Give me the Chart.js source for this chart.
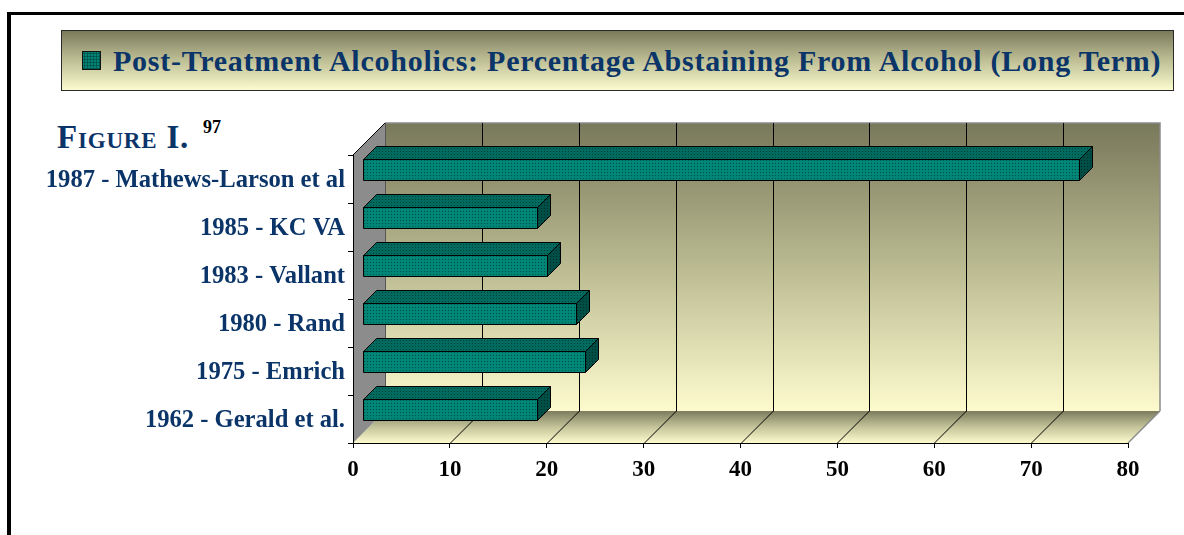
<!DOCTYPE html>
<html><head><meta charset="utf-8">
<script src="https://cdn.jsdelivr.net/npm/chart.js@4.4.1/dist/chart.umd.min.js"></script>
<style>
html,body{margin:0;padding:0;width:1184px;height:535px;overflow:hidden;background:#fff;}
#frame{position:absolute;left:7px;top:12px;width:1200px;height:600px;border-left:4px solid #000;border-top:3px solid #000;box-sizing:border-box;}
#legend{position:absolute;left:61px;top:30px;width:1113px;height:61px;border:1.5px solid #2a2a2a;box-sizing:border-box;background:linear-gradient(#7a7a5c,#b9b990 45%,#fbfbcf);}
#lgbox{position:absolute;left:20px;top:20px;width:19px;height:19px;border:1px solid #111;box-sizing:border-box;background-color:#008577;background-image:radial-gradient(circle,#00524a 45%,transparent 55%);background-size:3px 3px;}
#lgtext{position:absolute;left:51px;top:0;height:58px;font:bold 30px "Liberation Serif",serif;line-height:60px;letter-spacing:0.75px;color:#0b3568;white-space:nowrap;}
#fig{position:absolute;left:57px;top:119px;font:bold 33px "Liberation Serif",serif;font-variant:small-caps;letter-spacing:0.8px;color:#0b3568;white-space:nowrap;}
#sup{position:absolute;left:203px;top:117px;font:bold 18px "Liberation Serif",serif;color:#000;}
#wrap{position:absolute;left:0;top:0;width:1184px;height:535px;}
</style></head>
<body>
<div id="frame"></div>
<div id="legend"><div id="lgbox"></div><div id="lgtext"></div></div>
<div id="fig">Figure I.</div>
<div id="sup">97</div>
<div id="wrap"><canvas id="c" width="1184" height="535"></canvas></div>
<script>
const seriesName = 'Post-Treatment Alcoholics: Percentage Abstaining From Alcohol (Long Term)';
const categories = ['1987 - Mathews-Larson et al','1985 - KC VA','1983 - Vallant','1980 - Rand','1975 - Emrich','1962 - Gerald et al.'];
const abstainingPct = [74, 18, 19, 22, 23, 18];
const xTickValues = [0, 10, 20, 30, 40, 50, 60, 70, 80];

document.getElementById('lgtext').textContent = seriesName;

function makePattern(ctx, base, dot){
  const p = document.createElement('canvas'); p.width = 3; p.height = 3;
  const g = p.getContext('2d');
  g.fillStyle = base; g.fillRect(0,0,3,3);
  g.fillStyle = dot; g.fillRect(1,1,1,1);
  return ctx.createPattern(p, 'repeat');
}

const DEPTH = 32;      // floor depth (px)
const BAR_D = 13;      // bar depth
const BAR_O = 9.5;     // bar offset from front plane

const threeD = {
  id: 'threeD',
  beforeDraw(chart){
    const ctx = chart.ctx, xs = chart.scales.x, ys = chart.scales.y;
    const x0 = xs.getPixelForValue(0), x1 = xs.getPixelForValue(80);
    const yT = ys.top, yB = ys.bottom, D = DEPTH;
    ctx.save();
    let g = ctx.createLinearGradient(0, yT - D, 0, yB - D);
    g.addColorStop(0, '#78785b'); g.addColorStop(0.45, '#b4b48c'); g.addColorStop(1, '#fdfbce');
    ctx.fillStyle = g;
    ctx.fillRect(x0 + D, yT - D, x1 - x0, yB - yT);
    ctx.strokeStyle = '#8a8a8a'; ctx.lineWidth = 1.5;
    ctx.beginPath(); ctx.moveTo(x0 + D, yT - D); ctx.lineTo(x1 + D, yT - D); ctx.lineTo(x1 + D, yB - D); ctx.stroke();
    g = ctx.createLinearGradient(0, yB - D, 0, yB);
    g.addColorStop(0, '#7c7c5e'); g.addColorStop(0.5, '#c4c49a'); g.addColorStop(1, '#fdfbce');
    ctx.fillStyle = g;
    ctx.beginPath(); ctx.moveTo(x0, yB); ctx.lineTo(x1, yB); ctx.lineTo(x1 + D, yB - D); ctx.lineTo(x0 + D, yB - D); ctx.closePath(); ctx.fill();
    ctx.strokeStyle = '#8a8a8a'; ctx.lineWidth = 1.5;
    ctx.beginPath(); ctx.moveTo(x1, yB); ctx.lineTo(x1 + D, yB - D); ctx.stroke();
    ctx.fillStyle = '#8c8c8c';
    ctx.beginPath(); ctx.moveTo(x0, yB); ctx.lineTo(x0, yT); ctx.lineTo(x0 + D, yT - D); ctx.lineTo(x0 + D, yB - D); ctx.closePath(); ctx.fill();
    ctx.strokeStyle = '#000'; ctx.lineWidth = 1;
    ctx.beginPath(); ctx.moveTo(x0, yT); ctx.lineTo(x0 + D, yT - D); ctx.stroke();
    ctx.strokeStyle = '#555';
    ctx.beginPath(); ctx.moveTo(x0 + D + 0.5, yT - D); ctx.lineTo(x0 + D + 0.5, yB - D); ctx.stroke();
    ctx.strokeStyle = '#000'; ctx.lineWidth = 1;
    xTickValues.forEach(v => {
      if (v === 0 || v === 80) return;
      const px = Math.round(xs.getPixelForValue(v)) + 0.5;
      ctx.beginPath(); ctx.moveTo(px + D, yT - D); ctx.lineTo(px + D, yB - D); ctx.stroke();
      ctx.beginPath(); ctx.moveTo(px, yB); ctx.lineTo(px + D, yB - D); ctx.stroke();
    });
    ctx.restore();
  },
  afterDatasetsDraw(chart){
    const ctx = chart.ctx, meta = chart.getDatasetMeta(0);
    const front = makePattern(ctx, '#008677', '#005047');
    const top = makePattern(ctx, '#006a5e', '#003f38');
    const side = makePattern(ctx, '#004f46', '#002c27');
    const o = BAR_O, d = BAR_D;
    ctx.save(); ctx.strokeStyle = '#000'; ctx.lineWidth = 1; ctx.lineJoin = 'miter';
    meta.data.forEach(el => {
      const p = el.getProps(['x','y','base','height'], true);
      const L = Math.round(p.base + o) + 0.5, R = Math.round(p.x + o) + 0.5;
      const T = Math.round(p.y - p.height / 2 - o) + 0.5, B = Math.round(p.y + p.height / 2 - o) + 0.5;
      ctx.fillStyle = top;
      ctx.beginPath(); ctx.moveTo(L, T); ctx.lineTo(L + d, T - d); ctx.lineTo(R + d, T - d); ctx.lineTo(R, T); ctx.closePath(); ctx.fill(); ctx.stroke();
      ctx.fillStyle = side;
      ctx.beginPath(); ctx.moveTo(R, T); ctx.lineTo(R + d, T - d); ctx.lineTo(R + d, B - d); ctx.lineTo(R, B); ctx.closePath(); ctx.fill(); ctx.stroke();
      ctx.fillStyle = front;
      ctx.beginPath(); ctx.rect(L, T, R - L, B - T); ctx.fill(); ctx.stroke();
    });
    ctx.restore();
  }
};

new Chart(document.getElementById('c'), {
  type: 'bar',
  data: { labels: categories, datasets: [{ label: seriesName, data: abstainingPct,
    backgroundColor: 'rgba(0,0,0,0)', borderWidth: 0, barPercentage: 0.44, categoryPercentage: 1 }] },
  options: {
    indexAxis: 'y', responsive: false, animation: false, devicePixelRatio: 1,
    layout: { padding: { top: 155, right: 56, left: 0, bottom: 0 } },
    plugins: { legend: { display: false }, tooltip: { enabled: false } },
    scales: {
      x: { type: 'linear', min: 0, max: 80, afterFit: s => { s.height = 92; },
        afterBuildTicks: s => { s.ticks = xTickValues.map(v => ({ value: v })); },
        ticks: { color: '#000', font: { family: 'Liberation Serif', weight: 'bold', size: 23 }, padding: 8 },
        grid: { drawOnChartArea: false, drawTicks: true, tickLength: 5, color: '#000' },
        border: { display: true, color: '#000', width: 1 } },
      y: { type: 'category', afterFit: s => { s.width = 353; },
        ticks: { color: '#0b3568', font: { family: 'Liberation Serif', weight: 'bold', size: 24.6 }, padding: 3, labelOffset: 2 },
        grid: { offset: true, drawOnChartArea: false, drawTicks: true, tickLength: 5, color: '#000' },
        border: { display: true, color: '#000', width: 1 } }
    }
  },
  plugins: [threeD]
});
</script>
</body></html>
